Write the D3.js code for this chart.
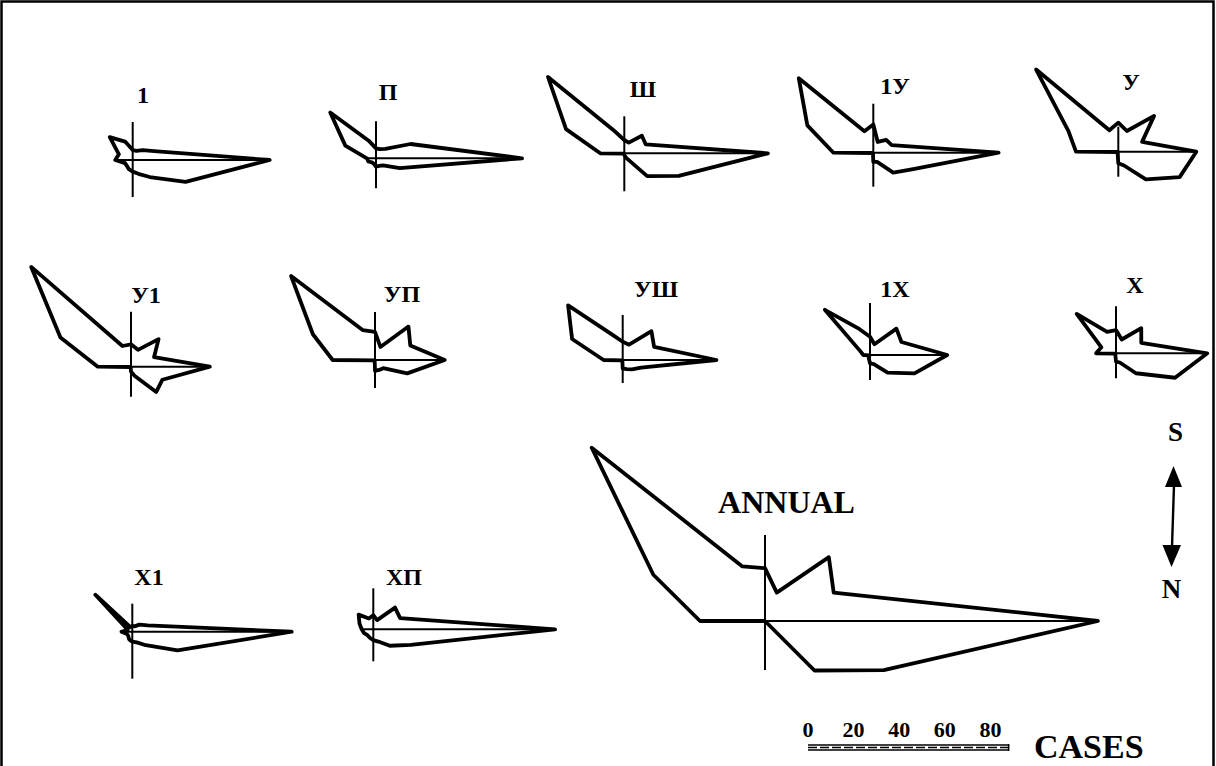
<!DOCTYPE html>
<html>
<head>
<meta charset="utf-8">
<script src="https://cdn.jsdelivr.net/npm/d3@7"></script>
<style>
  html, body { margin: 0; padding: 0; background: #fff; }
  svg { display: block; }
  text { font-family: "Liberation Serif", "DejaVu Serif", serif; font-weight: bold; fill: #000; }
</style>
</head>
<body>
<svg id="chart" width="1216" height="766"></svg>
<script>
// ---------- DATA (cases per direction; S is up, N is down) ----------
const directions = ["E","ESE","SE","SSE","S","SSW","SW","WSW","W","WNW","NW","NNW","N","NNE","NE","ENE"];
const monthLabels = ["1","П","Ш","1У","У","У1","УП","УШ","1Х","Х","Х1","ХП"];

const jan = [16.5, 2.8, 1.7, 1.2, 1.2, 2.4, 3.9, 1.8, 2.1, 1.0, 1.0, 1.2, 1.4, 1.8, 2.9, 6.9];
const feb = [17.6, 4.5, 1.6, 1.2, 1.2, 2.3, 7.8, 4.0, 1.1, 1.0, 0.7, 0.7, 1.0, 1.0, 1.2, 3.1];
const mar = [17.3, 2.8, 3.0, 1.4, 1.6, 2.8, 13.0, 7.6, 2.9, 0.1, 0.1, 0.1, 0.2, 0.6, 3.9, 7.1];
const apr = [15.1, 2.4, 2.2, 1.4, 3.4, 2.8, 12.7, 8.6, 4.8, 0.1, 0.1, 0.1, 1.1, 1.2, 3.4, 5.2];
const may = [9.4, 3.1, 6.1, 2.7, 3.5, 2.8, 14.0, 6.5, 5.1, 0.1, 0.1, 0.2, 1.4, 1.8, 4.7, 8.0];
const jun = [9.5, 3.0, 4.7, 2.2, 2.7, 2.7, 17.0, 9.2, 4.0, 0.1, 0.1, 0.1, 0.6, 1.2, 4.3, 4.1];
const jul = [8.4, 4.6, 5.7, 1.7, 3.4, 3.9, 14.3, 8.1, 5.1, 0.1, 0.1, 0.1, 1.3, 1.3, 1.4, 4.2];
const aug = [11.3, 4.1, 4.9, 2.0, 2.2, 3.3, 9.3, 6.6, 2.3, 0.1, 0.1, 0.1, 1.0, 1.2, 1.6, 2.4];
const sep = [9.3, 4.1, 4.5, 1.4, 2.2, 3.4, 7.7, 1.3, 0.8, 0.1, 0.1, 0.4, 1.0, 1.2, 3.0, 5.8];
const oct = [11.0, 3.3, 4.3, 1.8, 2.8, 2.8, 6.7, 1.9, 2.4, 0.1, 0.1, 0.2, 1.0, 1.2, 3.4, 7.7];
const nov = [19.2, 2.0, 1.2, 0.7, 0.7, 0.6, 6.3, 0.6, 1.3, 0.7, 0.7, 1.0, 1.2, 1.4, 2.3, 5.9];
const dec = [21.9, 3.5, 3.7, 1.2, 1.7, 1.4, 2.5, 1.8, 1.4, 1.2, 1.0, 1.1, 1.3, 1.6, 2.8, 4.9];
const monthly = [jan, feb, mar, apr, may, jun, jul, aug, sep, oct, nov, dec];

const annual = [146, 32.6, 39.6, 13.5, 23.2, 25.9, 107.5, 53, 28.5, 0, 0, 0, 0, 0, 30.7, 56.4];
const annualLabel = "ANNUAL";
const scaleTicks = [0, 20, 40, 60, 80];
const scaleUnit = "CASES";

// ---------- LAYOUT ----------
const W = 1216, H = 766;
const svg = d3.select("#chart");

// positions of the small roses (centre, label, axis extents)
const layout = [
  {cx:132.7, cy:160,   lx:143,  ly:103, up:38, down:37},
  {cx:376,   cy:158.3, lx:388,  ly:100, up:37, down:30},
  {cx:624.3, cy:153.3, lx:643,  ly:97,  up:37, down:38},
  {cx:873.3, cy:152.7, lx:895,  ly:94,  up:49, down:34},
  {cx:1118.3,cy:151.7, lx:1131, ly:90,  up:25, down:25},
  {cx:131,   cy:366.7, lx:146,  ly:303, up:55, down:30},
  {cx:375,   cy:360,   lx:402,  ly:302, up:48, down:28},
  {cx:622.7, cy:360,   lx:656,  ly:297, up:45, down:23},
  {cx:870,   cy:355,   lx:895,  ly:297, up:52, down:25},
  {cx:1116,  cy:353.3, lx:1135, ly:293, up:47, down:25},
  {cx:132.3, cy:631.7, lx:149,  ly:585, up:28, down:47},
  {cx:373.3, cy:629.3, lx:404,  ly:585, up:41, down:32}
];
const annualLayout = {cx:765, cy:621, lx:786.5, ly:513, up:86, down:49};

// radius scales (px per case)
const rMonth = d3.scaleLinear().domain([0, 1]).range([0, 8.3]);
const rYear  = d3.scaleLinear().domain([0, 80]).range([0, 182.4]);

// angle scale: direction index -> radial angle (clockwise from up)
const angle = d3.scaleLinear().domain([0, 16]).range([Math.PI / 2, Math.PI / 2 - 2 * Math.PI]);

// frame
svg.append("rect").attr("x", 0).attr("y", 0).attr("width", W).attr("height", H).attr("fill", "#fff");
svg.append("path").attr("d", `M1.5,${H} L1.5,1.5 L1213.5,1.5 L1213.5,${H}`)
  .attr("fill", "none").attr("stroke", "#000").attr("stroke-width", 2.5);

function drawRose(values, lay, rScale, label, opts) {
  const g = svg.append("g").attr("transform", `translate(${lay.cx},${lay.cy})`);
  const pts = values.map((v, i) => ({dir: directions[i], i, v}));
  // axes
  g.append("line").attr("x1", 0).attr("x2", 0).attr("y1", -lay.up).attr("y2", lay.down)
    .attr("stroke", "#000").attr("stroke-width", opts.axisW);
  g.append("line").attr("x1", -rScale(values[8])).attr("x2", rScale(values[0]))
    .attr("y1", 0).attr("y2", 0)
    .attr("stroke", "#000").attr("stroke-width", opts.axisW);
  const line = d3.lineRadial()
    .angle(d => angle(d.i))
    .radius(d => rScale(d.v))
    .curve(d3.curveLinearClosed);
  g.append("path").attr("d", line(pts))
    .attr("fill", "none").attr("stroke", "#000")
    .attr("stroke-width", opts.polyW).attr("stroke-linejoin", "round");
  svg.append("text").attr("x", lay.lx).attr("y", lay.ly)
    .attr("text-anchor", "middle").attr("font-size", opts.fontSize)
    .text(label);
}

monthly.forEach((vals, k) => drawRose(vals, layout[k], rMonth, monthLabels[k],
  {axisW: 2, polyW: 3.8, fontSize: 24}));

drawRose(annual, annualLayout, rYear, annualLabel,
  {axisW: 2, polyW: 3.8, fontSize: 32});

// ---------- scale bar ----------
const x0 = 808;
const sx = d3.scaleLinear().domain([0, 80]).range([x0, x0 + rYear(80)]);
const barEnd = sx(88);
const gb = svg.append("g");
gb.append("line").attr("x1", sx(0)).attr("x2", barEnd).attr("y1", 745).attr("y2", 745)
  .attr("stroke", "#000").attr("stroke-width", 1.6);
gb.append("line").attr("x1", sx(0)).attr("x2", barEnd).attr("y1", 750).attr("y2", 750)
  .attr("stroke", "#000").attr("stroke-width", 1.6);
gb.append("line").attr("x1", sx(0)).attr("x2", barEnd).attr("y1", 747.5).attr("y2", 747.5)
  .attr("stroke", "#000").attr("stroke-width", 1.4).attr("stroke-dasharray", "9,3");
gb.append("line").attr("x1", barEnd).attr("x2", barEnd).attr("y1", 744).attr("y2", 751)
  .attr("stroke", "#000").attr("stroke-width", 1.6);
gb.selectAll("text.tick").data(scaleTicks).enter().append("text")
  .attr("class", "tick")
  .attr("x", d => sx(d)).attr("y", 737)
  .attr("text-anchor", "middle").attr("font-size", 22)
  .text(d => d);
svg.append("text").attr("x", 1034).attr("y", 758).attr("font-size", 34)
  .text(scaleUnit);

// ---------- S / N arrow ----------
const ga = svg.append("g");
ga.append("line").attr("x1", 1174).attr("y1", 485).attr("x2", 1172).attr("y2", 547)
  .attr("stroke", "#000").attr("stroke-width", 2.4);
const tri = d3.line();
ga.append("path").attr("d", tri([[1173.5, 466], [1165, 487], [1182, 487]]) + "Z").attr("fill", "#000");
ga.append("path").attr("d", tri([[1162.5, 545], [1181, 545], [1171.5, 567]]) + "Z").attr("fill", "#000");
svg.append("text").attr("x", 1175.5).attr("y", 441).attr("text-anchor", "middle")
  .attr("font-size", 27).text("S");
svg.append("text").attr("x", 1171.5).attr("y", 598).attr("text-anchor", "middle")
  .attr("font-size", 27).text("N");
</script>
</body>
</html>
